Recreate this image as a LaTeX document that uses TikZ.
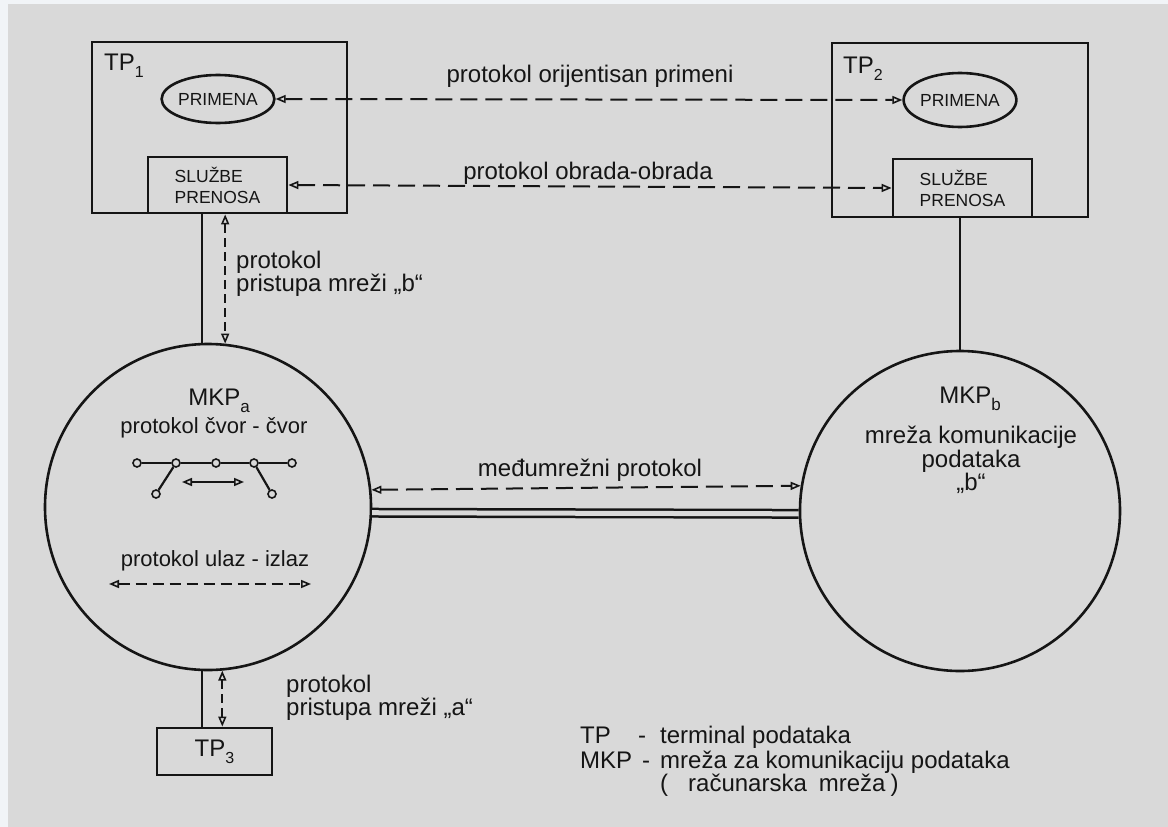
\documentclass[tikz,border=0pt]{standalone}
\usepackage{fontspec}
\setmainfont{Liberation Sans}
\usetikzlibrary{arrows.meta,shapes.geometric}
\definecolor{bggray}{HTML}{D9D9D9}
\definecolor{bgwhite}{HTML}{F1F4F7}
\definecolor{ink}{HTML}{151515}
\tikzset{
  box/.style={draw=ink, line width=2.8pt, rectangle, inner sep=0pt, align=center},
  oval/.style={draw=ink, line width=2.6pt, ellipse, inner sep=0pt, align=center},
  net/.style={draw=ink, line width=2.6pt, circle, inner sep=0pt, align=center},
  dot/.style={draw=ink, line width=1.6pt, circle, inner sep=0pt, minimum size=8pt, fill=bggray},
  lbl/.style={text=ink, inner sep=0pt, font=\fontsize{24}{28}\selectfont},
  inlbl/.style={text=ink, inner sep=0pt, font=\fontsize{22}{26}\selectfont},
  caps/.style={text=ink, font=\fontsize{17.5}{20}\selectfont},
  solidline/.style={draw=ink, line width=2.2pt},
  tips/.style={{Triangle[open,length=10pt,width=8pt,line width=1.6pt]}-{Triangle[open,length=10pt,width=8pt,line width=1.6pt]}},
  dasharrow/.style={draw=ink, line width=2pt, dash pattern=on 17pt off 8pt, tips},
  vdasharrow/.style={draw=ink, line width=1.9pt, dash pattern=on 9pt off 5pt, tips},
}
\begin{document}
\begin{tikzpicture}[x=1pt,y=-1pt]
\useasboundingbox (0,0) rectangle (1168,827);
\fill[bgwhite] (0,0) rectangle (1168,827);
\fill[bggray] (8,4) rectangle (1168,827);

% terminal boxes
\node[box, minimum width=255pt, minimum height=171pt] (tp1) at (219.5,127.5) {};
\node[box, minimum width=256pt, minimum height=174pt] (tp2) at (960,130) {};
\node[lbl, anchor=base west] (tp1l) at (104,70) {TP\raisebox{-0.3em}{\fontsize{16}{16}\selectfont 1}};
\node[lbl, anchor=base west] (tp2l) at (843,73) {TP\raisebox{-0.3em}{\fontsize{16}{16}\selectfont 2}};

\node[oval, minimum width=110pt, minimum height=48pt, caps] (pr1) at (218,99) {PRIMENA};
\node[oval, minimum width=107pt, minimum height=54pt, caps] (pr2) at (960,100) {PRIMENA};

\node[box, minimum width=139pt, minimum height=56pt, caps, align=left, font=\fontsize{17.5}{21}\selectfont] (sl1) at (217.5,185) {SLUŽBE\\PRENOSA};
\node[box, minimum width=139pt, minimum height=58pt, caps, align=left, font=\fontsize{17.5}{21}\selectfont] (sl2) at (962.5,188) {SLUŽBE\\PRENOSA};

% networks
\node[net, minimum size=326pt] (mkpa) at (208,507) {};
\node[net, minimum size=320pt] (mkpb) at (960,511) {};
\node[box, minimum width=115pt, minimum height=47pt, lbl] (tp3) at (214.5,751.5) {TP\raisebox{-0.3em}{\fontsize{16}{16}\selectfont 3}};

% protocols between terminals
\draw[dasharrow] (pr1.east) -- (pr2.west);
\node[lbl] (l1) at (590,76) {protokol orijentisan primeni};
\draw[dasharrow] (sl1.east) -- (sl2.west);
\node[lbl] (l2) at (588,173) {protokol obrada-obrada};

% TP1 - MKPa
\draw[solidline] (sl1.south -| mkpa.92.1) -- (mkpa.92.1);
\draw[vdasharrow] (sl1.south -| mkpa.84.7) -- (mkpa.84.7);
\node[lbl, anchor=west, align=left, font=\fontsize{24}{22}\selectfont] (l3) at (236,274) {protokol\\pristupa mreži „b“};

% TP2 - MKPb
\draw[solidline] (sl2.south -| mkpb.north) -- (mkpb.north);

% MKPa - MKPb
\draw[draw=ink, line width=2.5pt, double=bggray, double distance=5pt] (mkpa.-2.6) -- (mkpb.181.3);
\draw[dasharrow] (mkpa.6.7) -- (mkpb.171.7);
\node[lbl] (l4) at (590,470) {međumrežni protokol};

% MKPa - TP3
\draw[solidline] (mkpa.-92.8) -- (mkpa.-92.8 |- tp3.north);
\draw[vdasharrow] (mkpa.-85.1) -- (mkpa.-85.1 |- tp3.north);
\node[lbl, anchor=west, align=left, font=\fontsize{24}{21}\selectfont] (l5) at (286,698) {protokol\\pristupa mreži „a“};

% inside MKPa
\node[lbl] (mkpal) at (219,401) {MKP\raisebox{-0.3em}{\fontsize{17}{17}\selectfont a}};
\node[inlbl] (cc) at (214,428) {protokol čvor - čvor};
\node[dot] (n1) at (137,463) {};
\node[dot] (n2) at (176,463) {};
\node[dot] (n3) at (216,463) {};
\node[dot] (n4) at (254,463) {};
\node[dot] (n5) at (292,463) {};
\node[dot] (n6) at (156,494) {};
\node[dot] (n7) at (272,494) {};
\draw[solidline] (n1) -- (n2) -- (n3) -- (n4) -- (n5);
\draw[solidline] (n2) -- (n6);
\draw[solidline] (n4) -- (n7);
\coordinate (ca) at (182,482);
\coordinate (cb) at (244,482);
\draw[draw=ink, line width=2pt, tips] (ca) -- (cb);
\node[inlbl] (ui) at (215,561) {protokol ulaz - izlaz};
\coordinate (ua) at (109,584);
\coordinate (ub) at (311,584);
\draw[draw=ink, line width=1.9pt, dash pattern=on 11pt off 6pt, tips] (ua) -- (ub);

% inside MKPb
\node[lbl] (mkpbl) at (970,399) {MKP\raisebox{-0.3em}{\fontsize{17}{17}\selectfont b}};
\node[lbl, align=center, font=\fontsize{24}{22}\selectfont] (mb) at (971,460) {mreža komunikacije\\podataka\\„b“};

% legend
\node[lbl, anchor=base west] (k1) at (580,743) {TP};
\node[lbl, anchor=base west] (k2) at (638,743) {-};
\node[lbl, anchor=base west] (k3) at (660,743) {terminal podataka};
\node[lbl, anchor=base west] (k4) at (580,768) {MKP};
\node[lbl, anchor=base west] (k5) at (642,768) {-};
\node[lbl, anchor=base west] (k6) at (660,768) {mreža za komunikaciju podataka};
\node[lbl, anchor=base west] (k7) at (660,791) {(\hspace{20pt}računarska\hspace{12pt}mreža\hspace{5pt})};
\end{tikzpicture}
\end{document}
